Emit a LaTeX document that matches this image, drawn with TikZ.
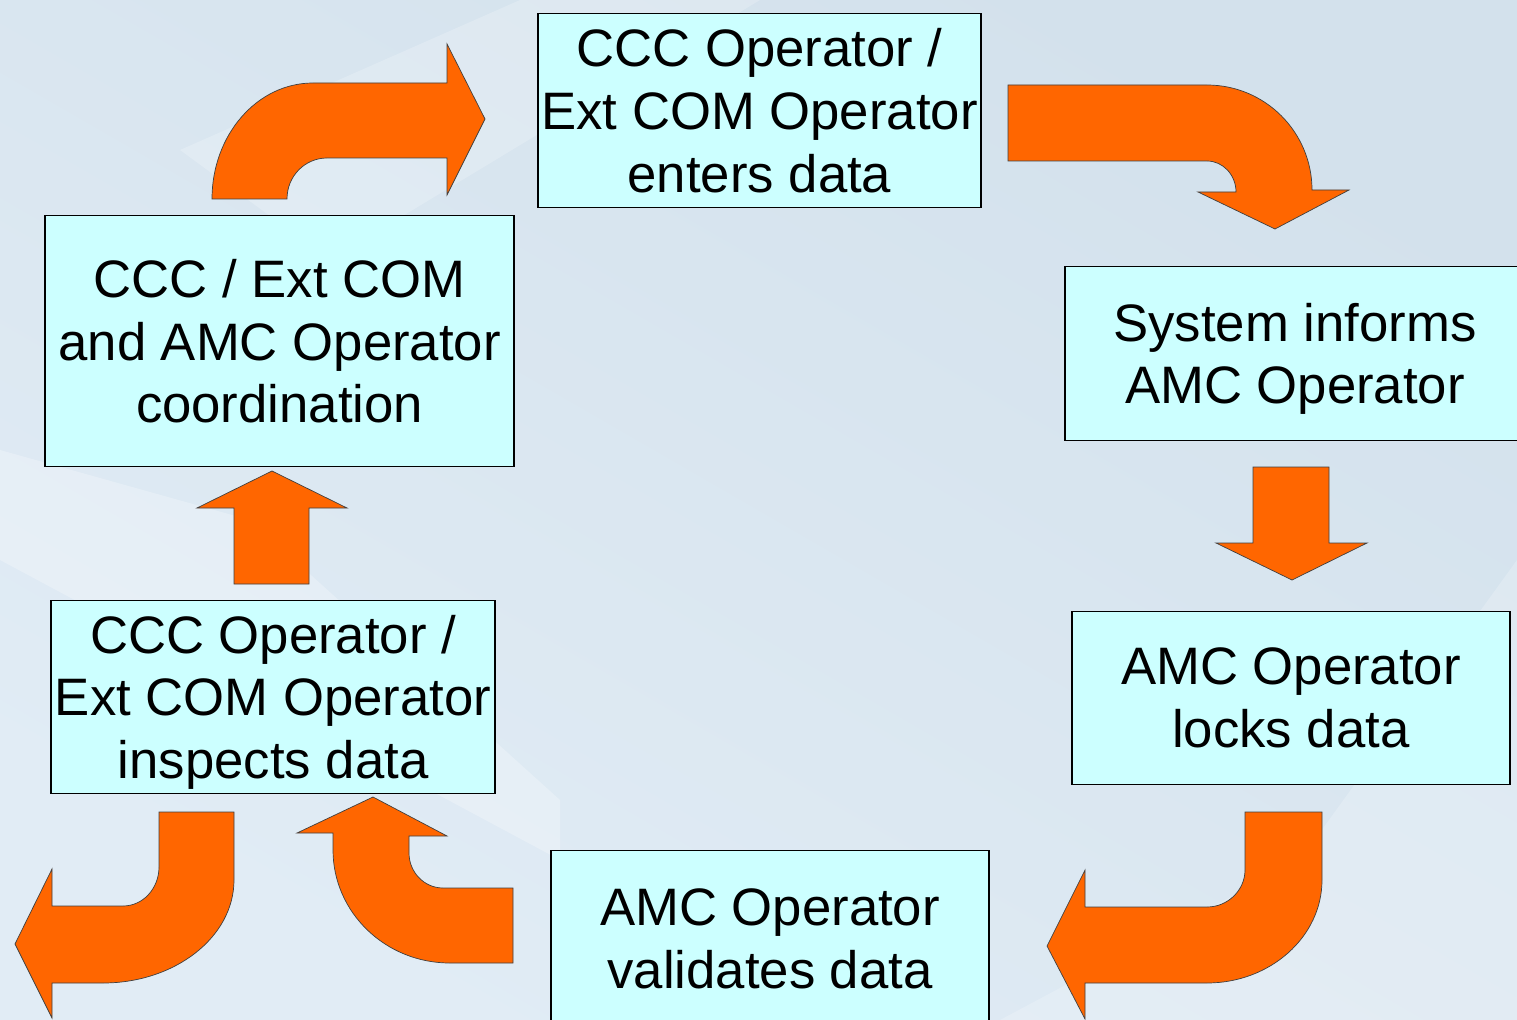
\documentclass[tikz,border=0pt]{standalone}
\usepackage{fontspec}
\setmainfont{Liberation Sans}
\usetikzlibrary{positioning}

\definecolor{boxcyan}{RGB}{204,255,255}
\definecolor{arroworange}{RGB}{255,102,0}
\definecolor{bgdark}{RGB}{211,225,236}
\definecolor{bglight}{RGB}{225,236,245}

\begin{document}
\begin{tikzpicture}[x=0.02cm, y=-0.02cm,
  stepbox/.style={rectangle, draw=black, fill=boxcyan, line width=0.9pt, align=center, inner sep=0pt, outer sep=0pt, text depth=0pt, font=\fontsize{30}{35.7}\selectfont},
  bentarrow/.style={fill=arroworange, draw=black!75, line width=0.4pt, line join=miter}]
\useasboundingbox (0,0) rectangle (1517,1020);
\clip (0,0) rectangle (1517,1020);
\shade[top color=bgdark, bottom color=bglight, shading angle=-30] (0,0) rectangle (1517,1020);
\fill[white, opacity=0.25] (0,450) -- (250,520) -- (560,800) -- (560,860) -- (0,560) -- cycle;
\fill[white, opacity=0.2] (180,150) -- (520,0) -- (760,0) -- (330,260) -- cycle;
\fill[white, opacity=0.2] (1517,560) -- (1517,1020) -- (1000,1020) -- (1300,860) -- cycle;

\node (enters) [stepbox, minimum width=8.86cm, minimum height=3.88cm] at (759.5,110.5) {CCC Operator /\\Ext COM Operator\\enters data};
\node (informs) [stepbox, minimum width=9.2cm, minimum height=3.48cm, below right=1.18cm and 1.68cm of enters] {System informs\\AMC Operator};
\node (locks) [stepbox, minimum width=8.76cm, minimum height=3.46cm, below=3.42cm of informs, xshift=-0.08cm] {AMC Operator\\locks data};
\node (validates) [stepbox, minimum width=8.76cm, minimum height=3.54cm, below left=1.32cm and 1.66cm of locks] {AMC Operator\\validates data};
\node (inspects) [stepbox, minimum width=8.88cm, minimum height=3.86cm, above left=1.14cm and 1.12cm of validates] {CCC Operator /\\Ext COM Operator\\inspects data};
\node (coord) [stepbox, minimum width=9.38cm, minimum height=5.02cm, above=2.68cm of inspects, xshift=0.13cm] {CCC / Ext COM\\and AMC Operator\\coordination};

\draw [bentarrow] (212,199) .. controls (212,135) and (257,83) .. (313,83) -- (447,83) -- (447,44) -- (485,119) -- (447,195) -- (447,158) -- (327,158) .. controls (305,158) and (287,176) .. (287,199) -- cycle;
\draw [bentarrow] (1008,85) -- (1207,85) .. controls (1265,85) and (1312,132) .. (1312,190) -- (1349,190) -- (1275,229) -- (1198,192) -- (1236,192) .. controls (1236,175) and (1223,161) .. (1207,161) -- (1008,161) -- cycle;
\draw [bentarrow] (1253,467) -- (1329,467) -- (1329,543) -- (1367,543) -- (1292,580) -- (1216,543) -- (1253,543) -- cycle;
\draw [bentarrow] (1245,812) -- (1322,812) -- (1322,880) .. controls (1322,937) and (1270,983) .. (1207,983) -- (1085,983) -- (1085,1019) -- (1047,946) -- (1085,870) -- (1085,907) -- (1207,907) .. controls (1228,907) and (1245,890) .. (1245,870) -- cycle;
\draw [bentarrow] (373,797) -- (447,836) -- (409,836) -- (409,853) .. controls (409,872) and (424,888) .. (443,888) -- (513,888) -- (513,963) -- (450,963) .. controls (385,963) and (333,912) .. (333,850) -- (333,833) -- (297,833) -- cycle;
\draw [bentarrow] (159,812) -- (234,812) -- (234,880) .. controls (234,937) and (175,983) .. (103,983) -- (52,983) -- (52,1018) -- (15,944) -- (52,869) -- (52,906) -- (123,906) .. controls (143,906) and (159,888.5) .. (159,867) -- cycle;
\draw [bentarrow] (272,471) -- (347,508) -- (309,508) -- (309,584) -- (234,584) -- (234,508) -- (197,508) -- cycle;

\end{tikzpicture}
\end{document}
